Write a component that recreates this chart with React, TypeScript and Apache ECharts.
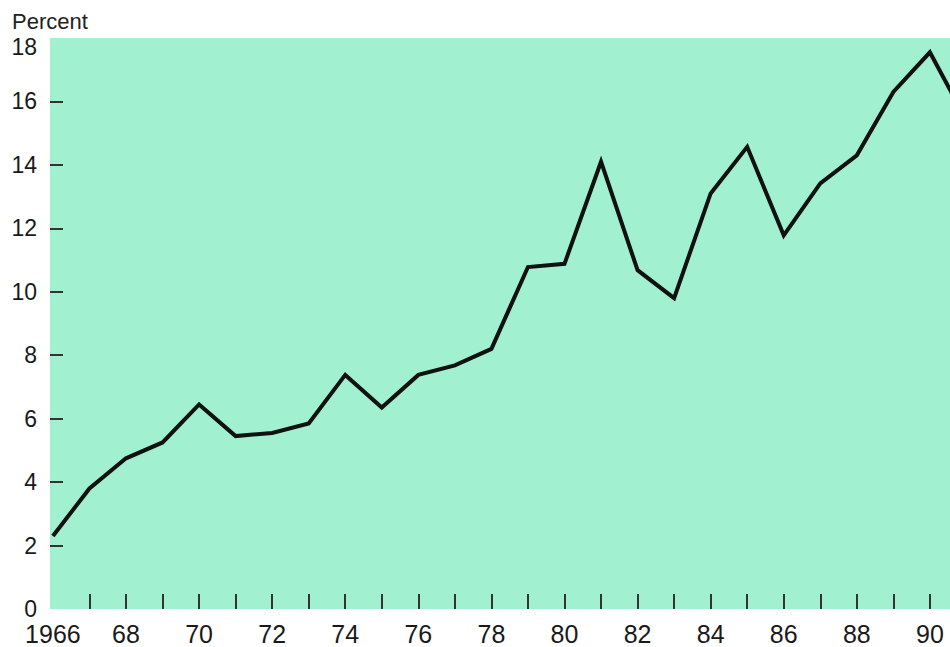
import React, { useEffect, useRef } from "react";
import * as echarts from "echarts";

const years = [1966, 1967, 1968, 1969, 1970, 1971, 1972, 1973, 1974, 1975, 1976, 1977, 1978, 1979, 1980, 1981, 1982, 1983, 1984, 1985, 1986, 1987, 1988, 1989, 1990, 1991];
const percent = [2.3, 3.8, 4.75, 5.25, 6.45, 5.45, 5.55, 5.85, 7.38, 6.35, 7.38, 7.68, 8.2, 10.78, 10.88, 14.1, 10.68, 9.8, 13.1, 14.57, 11.78, 13.42, 14.3, 16.3, 17.55, 15.4];
const xLabelYears = [1966, 1968, 1970, 1972, 1974, 1976, 1978, 1980, 1982, 1984, 1986, 1988, 1990];
const xTickYears = [1967, 1968, 1969, 1970, 1971, 1972, 1973, 1974, 1975, 1976, 1977, 1978, 1979, 1980, 1981, 1982, 1983, 1984, 1985, 1986, 1987, 1988, 1989, 1990];
const yTickValues = [2, 4, 6, 8, 10, 12, 14, 16];

const FONT = "'Liberation Sans', Arial, Helvetica, sans-serif";

export default function App() {
  const ref = useRef<HTMLDivElement>(null);
  useEffect(() => {
    if (!ref.current) return;
    const chart = echarts.init(ref.current, null, { renderer: "svg" });
    chart.setOption({
      animation: false,
      backgroundColor: "#ffffff",
      textStyle: { fontFamily: FONT },
      grid: {
        left: 50,
        top: 38,
        right: 0,
        bottom: 38,
        show: true,
        backgroundColor: "#a1f1d1",
        borderWidth: 0,
        containLabel: false,
      },
      graphic: [
        {
          type: "text",
          left: 12,
          top: 10,
          style: { text: "Percent", fontSize: 22, fontFamily: FONT, fill: "#222" },
        },
      ],
      xAxis: {
        type: "value",
        min: 1965.92,
        max: 1990.55,
        axisLine: { show: false },
        splitLine: { show: false },
        axisTick: {
          show: true,
          inside: true,
          length: 15,
          customValues: xTickYears,
          lineStyle: { color: "#333", width: 2 },
        },
        axisLabel: {
          customValues: xLabelYears,
          margin: 14,
          fontSize: 25,
          lineHeight: 22,
          color: "#1a1a1a",
          fontFamily: FONT,
          formatter: (v: number) => (v === 1966 ? "1966" : String(v).slice(2)),
        },
      },
      yAxis: {
        type: "value",
        min: 0,
        max: 18,
        interval: 2,
        axisLine: { show: false },
        splitLine: { show: false },
        axisTick: {
          show: true,
          inside: true,
          length: 13,
          customValues: yTickValues,
          lineStyle: { color: "#333", width: 2 },
        },
        axisLabel: {
          margin: 13,
          fontSize: 23,
          lineHeight: 18,
          color: "#1a1a1a",
          fontFamily: FONT,
          verticalAlignMaxLabel: "top",
        },
      },
      series: [
        {
          type: "line",
          data: years.map((y, i) => [y, percent[i]]),
          showSymbol: false,
          symbol: "none",
          clip: true,
          lineStyle: { color: "#111", width: 4, join: "miter" },
        },
      ],
    });
    return () => chart.dispose();
  }, []);
  return (
    <div
      ref={ref}
      style={{ position: "absolute", left: 0, top: 0, width: 950, height: 647 }}
    />
  );
}
